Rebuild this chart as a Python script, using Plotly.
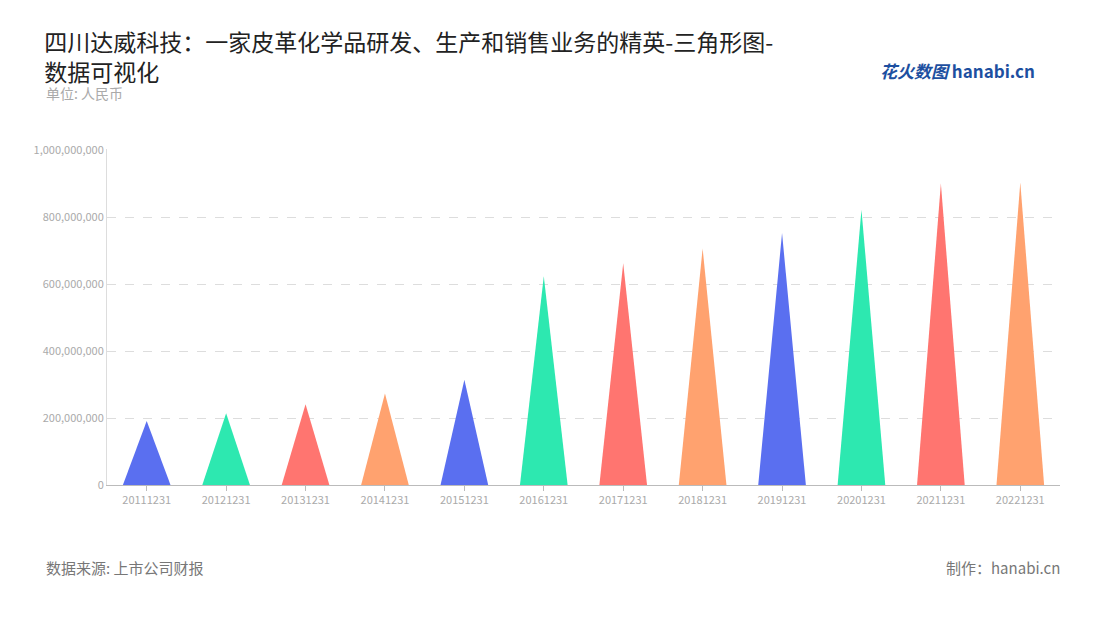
import plotly.graph_objects as go

years = ["20111231", "20121231", "20131231", "20141231", "20151231", "20161231",
         "20171231", "20181231", "20191231", "20201231", "20211231", "20221231"]
values = [191e6, 214e6, 241e6, 273e6, 314e6, 623e6,
          662e6, 706e6, 752e6, 822e6, 900e6, 903e6]
palette = ["#5a6ff0", "#2de8b0", "#ff7570", "#ffa26f"]

fig = go.Figure()
half = 0.3
for i, (yr, v) in enumerate(zip(years, values)):
    fig.add_trace(go.Scatter(
        x=[i - half, i, i + half, i - half], y=[0, v, 0, 0],
        fill="toself", mode="lines", line=dict(width=0),
        fillcolor=palette[i % 4], name=yr, hoverinfo="skip", showlegend=False))

fig.update_layout(
    width=1100, height=620, plot_bgcolor="white", paper_bgcolor="white",
    margin=dict(l=99, r=48, t=141, b=143, autoexpand=False),
    font=dict(family="Noto Sans CJK SC", color="#999"),
    title=dict(text="四川达威科技：一家皮革化学品研发、生产和销售业务的精英-三角形图-<br>数据可视化",
               x=0.033, xanchor="left", y=0.93, yanchor="top",
               font=dict(size=23, color="#222")),
    xaxis=dict(tickvals=list(range(len(years))), ticktext=years, range=[-0.5, 11.5],
               showgrid=False, showline=True, linecolor="#bbb", ticks="outside",
               tickcolor="#bbb", tickfont=dict(size=11, color="#aaa"), zeroline=False),
    yaxis=dict(range=[0, 1.003e9], tickvals=[0, 2e8, 4e8, 6e8, 8e8, 1e9], tickformat=",d",
               gridcolor="#ddd", griddash="dash", zeroline=False,
               tickfont=dict(size=11, color="#aaa"), showline=True, linecolor="#ddd"),
)
fig.add_annotation(text="单位: 人民币", x=-0.066, y=1.167, xref="paper", yref="paper",
                   xanchor="left", yanchor="middle", showarrow=False,
                   font=dict(size=14, color="#aaa"))
fig.add_annotation(text="数据来源: 上市公司财报", x=-0.066, y=-0.245, xref="paper", yref="paper",
                   xanchor="left", yanchor="middle", showarrow=False,
                   font=dict(size=15, color="#777"))
fig.add_annotation(text="制作：hanabi.cn", x=1.002, y=-0.245, xref="paper", yref="paper",
                   xanchor="right", yanchor="middle", showarrow=False,
                   font=dict(size=15, color="#777"))
fig.add_annotation(text="<b><i>花火数图</i></b> <b>hanabi.cn</b>", x=0.976, y=1.233, xref="paper",
                   yref="paper", xanchor="right", yanchor="middle", showarrow=False,
                   font=dict(size=17, color="#1d4fa0"))
fig.write_html("out.html")
